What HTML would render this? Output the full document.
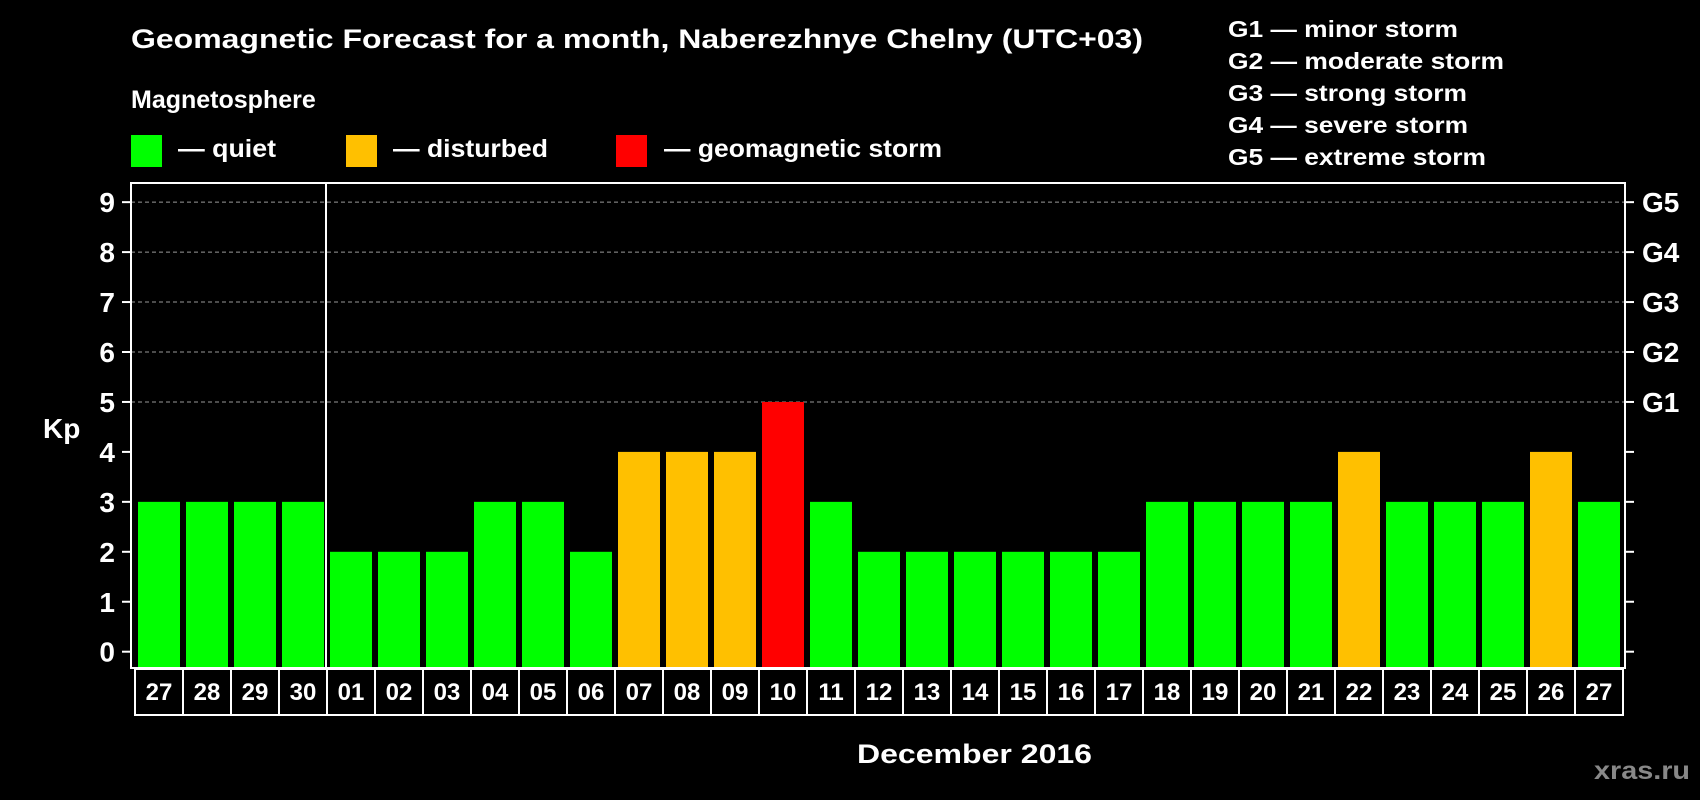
<!DOCTYPE html>
<html><head><meta charset="utf-8"><style>
html,body{margin:0;padding:0;background:#000;}
svg{display:block;font-family:"Liberation Sans",sans-serif;font-weight:bold;}
</style></head><body>
<svg id="chart" width="1700" height="800" viewBox="0 0 1700 800">
<rect x="0" y="0" width="1700" height="800" fill="#000"/>
<text x="131" y="48" fill="#fff" font-size="27" textLength="1012" lengthAdjust="spacingAndGlyphs">Geomagnetic Forecast for a month, Naberezhnye Chelny (UTC+03)</text>
<text x="131" y="108" fill="#fff" font-size="25">Magnetosphere</text>
<g><rect x="131" y="135" width="31" height="32" fill="#00ff00"/><text x="178" y="157" fill="#fff" font-size="25" textLength="98" lengthAdjust="spacingAndGlyphs">— quiet</text></g>
<g><rect x="346" y="135" width="31" height="32" fill="#ffc000"/><text x="393" y="157" fill="#fff" font-size="25" textLength="155" lengthAdjust="spacingAndGlyphs">— disturbed</text></g>
<g><rect x="616" y="135" width="31" height="32" fill="#ff0000"/><text x="664" y="157" fill="#fff" font-size="25" textLength="278" lengthAdjust="spacingAndGlyphs">— geomagnetic storm</text></g>
<g font-size="23" fill="#fff">
<text x="1228" y="37" textLength="230" lengthAdjust="spacingAndGlyphs">G1 — minor storm</text>
<text x="1228" y="69" textLength="276" lengthAdjust="spacingAndGlyphs">G2 — moderate storm</text>
<text x="1228" y="101" textLength="239" lengthAdjust="spacingAndGlyphs">G3 — strong storm</text>
<text x="1228" y="133" textLength="240" lengthAdjust="spacingAndGlyphs">G4 — severe storm</text>
<text x="1228" y="165" textLength="258" lengthAdjust="spacingAndGlyphs">G5 — extreme storm</text>
</g>
<g id="grid"></g>
<g id="bars"></g>
<g id="axes"></g>
<text x="43" y="438" fill="#fff" font-size="28">Kp</text>
<text x="857" y="763" fill="#fff" font-size="27" textLength="235" lengthAdjust="spacingAndGlyphs">December 2016</text>
<text x="1594" y="779" fill="#888" font-size="25" textLength="96" lengthAdjust="spacingAndGlyphs">xras.ru</text>
</svg>
<script>
const dates = ["27","28","29","30","01","02","03","04","05","06","07","08","09","10","11","12","13","14","15","16","17","18","19","20","21","22","23","24","25","26","27"];
const kpValues = [3,3,3,3,2,2,2,3,3,2,4,4,4,5,3,2,2,2,2,2,2,3,3,3,3,4,3,3,3,4,3];
const yTicks = [0,1,2,3,4,5,6,7,8,9];
const gLabels = ["","","","","","G1","G2","G3","G4","G5"];

const NS="http://www.w3.org/2000/svg";
const plotL=131, plotR=1625, plotT=183, plotB=668;
const y0=651.7, unit=49.95;
const yScale=v=>y0-v*unit;
const step=48, barW=42, x0=138;
const xScale=i=>x0+i*step;
function mk(tag,attrs,parent){const e=document.createElementNS(NS,tag);for(const k in attrs)e.setAttribute(k,attrs[k]);parent.appendChild(e);return e;}
const grid=document.getElementById('grid'), bars=document.getElementById('bars'), axes=document.getElementById('axes');

yTicks.forEach((t,i)=>{
  const y=yScale(t);
  if(t>=5){
    const gl=mk('line',{x1:plotL,x2:plotR,y1:y,y2:y,stroke:'#999','stroke-width':1,'stroke-dasharray':'4,3'},grid);
    
    
  }
  const tl=mk('line',{x1:122,x2:plotL,y1:y,y2:y,stroke:'#fff','stroke-width':2},axes);
  
  
  const tr=mk('line',{x1:plotR,x2:plotR+9,y1:y,y2:y,stroke:'#fff','stroke-width':2},axes);
  
  
  const lb=mk('text',{x:115,y:y+10,'text-anchor':'end',fill:'#fff','font-size':28},axes);
  lb.textContent=t;
  
  
  if(gLabels[i]){
    const g=mk('text',{x:1642,y:y+10,fill:'#fff','font-size':28},axes);
    g.textContent=gLabels[i];
    
    
  }
});

kpValues.forEach((v,i)=>{
  const col=v>=5?'#ff0000':(v>=4?'#ffc000':'#00ff00');
  const yt=yScale(v);
  const b=mk('rect',{x:xScale(i),y:yt,width:barW,height:plotB-1-yt,fill:col},bars);
  
  
  const bx=xScale(i)-3;
  const box=mk('rect',{x:bx,y:669,width:step,height:46,fill:'none',stroke:'#fff','stroke-width':2},axes);
  
  
  const dl=mk('text',{x:bx+step/2,y:700,'text-anchor':'middle',fill:'#fff','font-size':24},axes);
  dl.textContent=dates[i];
  
  
});

const frame=mk('rect',{x:plotL,y:plotT,width:plotR-plotL,height:plotB-plotT,fill:'none',stroke:'#fff','stroke-width':2},axes);


const div=mk('line',{x1:xScale(4)-4,x2:xScale(4)-4,y1:plotT,y2:plotB,stroke:'#fff','stroke-width':2},axes);


</script>
</body></html>
